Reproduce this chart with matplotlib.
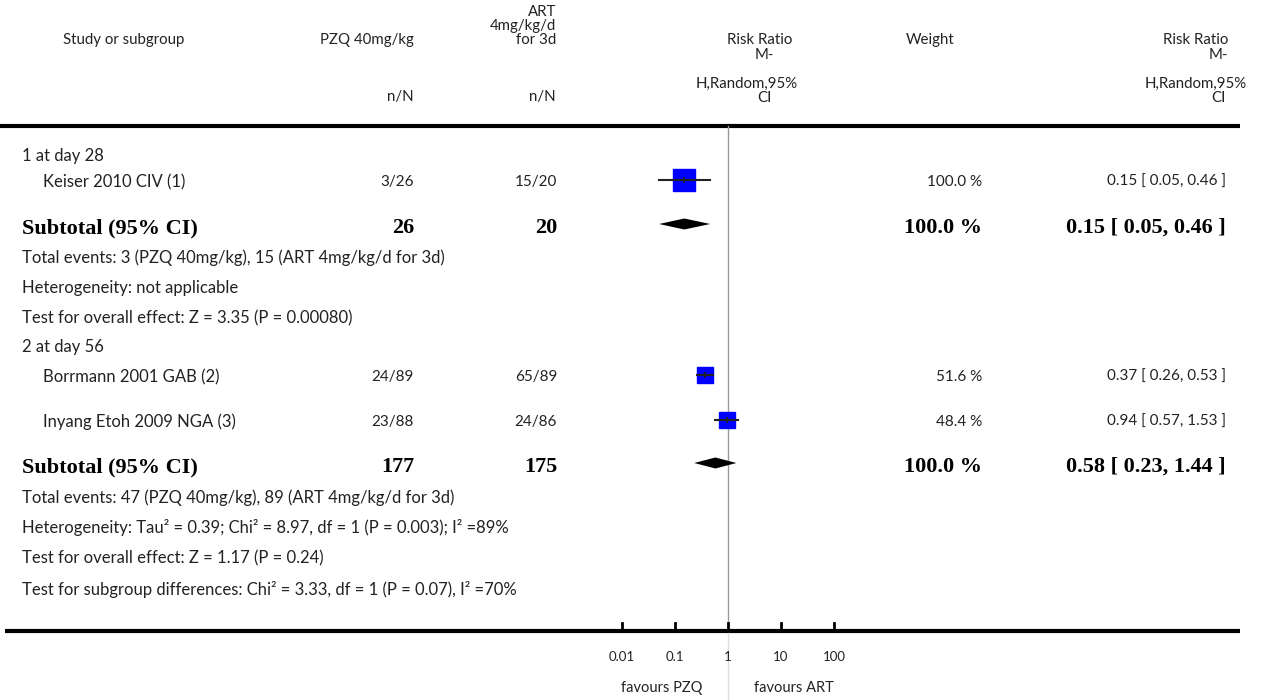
import matplotlib
matplotlib.use('Agg')
import matplotlib.pyplot as plt
import numpy as np

plt.rcParams['font.family'] = ['Lato', 'DejaVu Sans']

# individual studies
studies = ['Keiser 2010 CIV (1)', 'Borrmann 2001 GAB (2)', 'Inyang Etoh 2009 NGA (3)']
pzq_nN = ['3/26', '24/89', '23/88']
art_nN = ['15/20', '65/89', '24/86']
rr = [0.15, 0.37, 0.94]
ci_lo = [0.05, 0.26, 0.57]
ci_hi = [0.46, 0.53, 1.53]
weights = [100.0, 51.6, 48.4]
study_rows = [182, 377, 422]

# subtotals
sub_pzq = [26, 177]
sub_art = [20, 175]
sub_rr = [0.15, 0.58]
sub_lo = [0.05, 0.23]
sub_hi = [0.46, 1.44]
sub_weight = [100.0, 100.0]
sub_rows = [228, 467]

# free text lines
headings = ['1 at day 28', '2 at day 56']
heading_rows = [156, 347]
notes = ['Total events: 3 (PZQ 40mg/kg), 15 (ART 4mg/kg/d for 3d)',
         'Heterogeneity: not applicable',
         'Test for overall effect: Z = 3.35 (P = 0.00080)',
         'Total events: 47 (PZQ 40mg/kg), 89 (ART 4mg/kg/d for 3d)',
         'Heterogeneity: Tau\u00b2 = 0.39; Chi\u00b2 = 8.97, df = 1 (P = 0.003); I\u00b2 =89%',
         'Test for overall effect: Z = 1.17 (P = 0.24)',
         'Test for subgroup differences: Chi\u00b2 = 3.33, df = 1 (P = 0.07), I\u00b2 =70%']
note_rows = [258, 288, 318, 498, 528, 558, 589]

ticks = [0.01, 0.1, 1, 10, 100]
tick_labels = ['0.01', '0.1', '1', '10', '100']

W, H = 1268, 700
fig = plt.figure(figsize=(W / 100, H / 100), dpi=100)

# text layer in pixel coordinates
tx = fig.add_axes([0, 0, 1, 1])
tx.set_xlim(0, W)
tx.set_ylim(H, 0)
tx.axis('off')

# forest layer, log scale: 53 px per decade, RR=1 at x=728
px0, px1 = 560, 900
fx = fig.add_axes([px0 / W, 0, (px1 - px0) / W, 1])
fx.set_xscale('log')
fx.set_xlim(10 ** ((px0 - 728) / 53), 10 ** ((px1 - 728) / 53))
fx.set_ylim(H, 0)
fx.axis('off')

hdr = dict(fontsize=10.8, color='#222222', va='center')
txt = dict(fontsize=12, color='#222222', va='center')
num = dict(fontsize=11, color='#222222', va='center')
bold = dict(fontsize=16, color='black', va='center', family='Liberation Serif', weight='bold')

# header
tx.text(124, 40, 'Study or subgroup', ha='center', **hdr)
tx.text(414, 40, 'PZQ 40mg/kg', ha='right', **hdr)
tx.text(556, 12, 'ART', ha='right', **hdr)
tx.text(556, 26, '4mg/kg/d', ha='right', **hdr)
tx.text(556, 40, 'for 3d', ha='right', **hdr)
tx.text(414, 97, 'n/N', ha='right', **hdr)
tx.text(556, 97, 'n/N', ha='right', **hdr)
tx.text(792, 40, 'Risk Ratio', ha='right', **hdr)
tx.text(774, 55, 'M-', ha='right', **hdr)
tx.text(798, 84, 'H,Random,95%', ha='right', **hdr)
tx.text(772, 98, 'CI', ha='right', **hdr)
tx.text(1228, 40, 'Risk Ratio', ha='right', **hdr)
tx.text(1228, 55, 'M-', ha='right', **hdr)
tx.text(1247, 84, 'H,Random,95%', ha='right', **hdr)
tx.text(1226, 98, 'CI', ha='right', **hdr)
tx.text(930, 40, 'Weight', ha='center', **hdr)
tx.plot([0, 1240], [126, 126], color='black', lw=3, solid_capstyle='butt')

# headings and notes
for s, y in zip(headings, heading_rows):
    tx.text(22, y, s, ha='left', **txt)
for s, y in zip(notes, note_rows):
    tx.text(22, y, s, ha='left', **txt)

# study rows
for i, y in enumerate(study_rows):
    tx.text(43, y, studies[i], ha='left', **txt)
    tx.text(414, y, pzq_nN[i], ha='right', **num)
    tx.text(557, y, art_nN[i], ha='right', **num)
    tx.text(982, y, '%.1f %%' % weights[i], ha='right', **num)
    tx.text(1226, y, '%.2f [ %.2f, %.2f ]' % (rr[i], ci_lo[i], ci_hi[i]), ha='right', **num)
    ms = 15.8 * np.sqrt(weights[i] / 100.0)
    fx.plot([rr[i]], [y - 2], marker='s', ms=ms, color='#0000ff', mec='#0000ff', ls='none', zorder=2)
    fx.plot([ci_lo[i], ci_hi[i]], [y - 2, y - 2], color='#222222', lw=1.5, zorder=3)
    fx.plot([rr[i]], [y - 2], marker='|', ms=4, color='#222222', mew=1.2, zorder=3)

# subtotal rows
for i, y in enumerate(sub_rows):
    tx.text(22, y, 'Subtotal (95% CI)', ha='left', **bold)
    tx.text(414, y, str(sub_pzq[i]), ha='right', **bold)
    tx.text(557, y, str(sub_art[i]), ha='right', **bold)
    tx.text(982, y, '%.1f %%' % sub_weight[i], ha='right', **bold)
    tx.text(1226, y, '%.2f [ %.2f, %.2f ]' % (sub_rr[i], sub_lo[i], sub_hi[i]), ha='right', **bold)
    yc = y - 4
    fx.fill([sub_lo[i], sub_rr[i], sub_hi[i], sub_rr[i]], [yc, yc - 5.5, yc, yc + 5.5],
            color='black', lw=0, zorder=3)

# line of no effect
fx.plot([1, 1], [126, 631], color='#999999', lw=1, zorder=1)
fx.plot([1, 1], [631, H], color='#dddddd', lw=1, zorder=1)

# bottom scale
tx.plot([5, 1240], [631, 631], color='black', lw=3, solid_capstyle='butt')
for t, lab in zip(ticks, tick_labels):
    fx.plot([t, t], [631, 623], color='black', lw=2, zorder=4)
    fx.text(t, 657, lab, ha='center', va='center', fontsize=9.5, color='#222222')
fx.text(10 ** (-66 / 53), 688, 'favours PZQ', ha='center', va='center', fontsize=10.5, color='#222222')
fx.text(10 ** (66 / 53), 688, 'favours ART', ha='center', va='center', fontsize=10.5, color='#222222')

fig.savefig('out.png', dpi=100)
